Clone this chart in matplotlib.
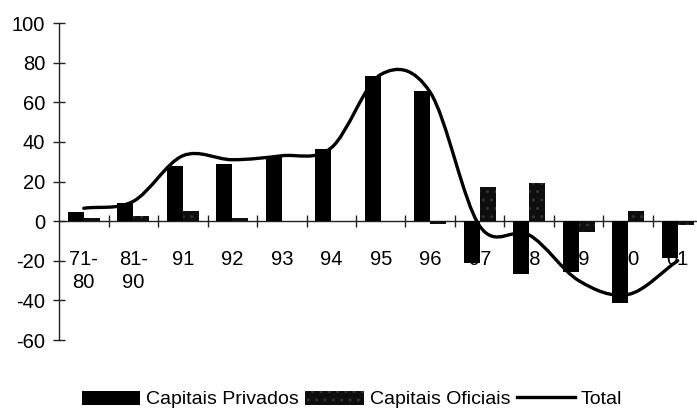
#!/usr/bin/env python3
# coding: utf-8

import numpy as np
import matplotlib

matplotlib.use("Agg")
import matplotlib.pyplot as plt
from matplotlib.path import Path
from matplotlib.patches import PathPatch, Patch
from matplotlib.lines import Line2D

plt.rcParams["font.family"] = ["Liberation Sans", "DejaVu Sans"]
plt.rcParams["axes.unicode_minus"] = False

# data
periods = ["71-\n80", "81-\n90", "91", "92", "93", "94", "95", "96",
           "97", "98", "99", "00", "01"]
privados = [4.5, 9, 28, 29, 32.5, 36.5, 73.5, 65.5, -21, -26.5, -25.5, -41.5, -18.5]
oficiais = [1.5, 2.5, 5, 1.5, 0, 0, 0, -1.5, 17, 19, -5.5, 5, -2]
total = [6.5, 10, 33, 31, 33, 37, 74, 65, -2.5, -7, -30, -37, -20]
yticks = [-60, -40, -20, 0, 20, 40, 60, 80, 100]


def smooth_path(xv, yv):
    # excel style smoothed line: cubic bezier segments (catmull-rom tangents)
    n = len(xv)
    t = np.zeros(n)
    for i in range(n):
        a = max(i - 1, 0)
        b = min(i + 1, n - 1)
        t[i] = (yv[b] - yv[a]) / (xv[b] - xv[a])
    verts = [(xv[0], yv[0])]
    codes = [Path.MOVETO]
    for i in range(n - 1):
        dx = (xv[i + 1] - xv[i]) / 3.0
        verts += [(xv[i] + dx, yv[i] + t[i] * dx),
                  (xv[i + 1] - dx, yv[i + 1] - t[i + 1] * dx),
                  (xv[i + 1], yv[i + 1])]
        codes += [Path.CURVE4] * 3
    return Path(verts, codes)


fig = plt.figure(figsize=(6.97, 4.11), dpi=100)
ax = fig.add_axes([0.0847, 0.1727, 0.9153, 0.7713])

x = np.arange(len(periods))
w = 0.32
ax.bar(x - w / 2, privados, w, color="black", linewidth=0, zorder=2)
ax.bar(x + w / 2, oficiais, w, color="#0e0e0e", edgecolor="#333333",
       hatch="..", linewidth=0, zorder=2)

ax.add_patch(PathPatch(smooth_path(x.astype(float), np.array(total, float)),
                       facecolor="none", edgecolor="black", lw=2.4,
                       zorder=3, capstyle="round"))

# category labels sit inside the plot, bars are drawn over them
for xi, lab in zip(x, periods):
    ax.text(xi, -14.5, lab, ha="center", va="top", fontsize=14.5,
            linespacing=1.3, zorder=1)

ax.set_xlim(-0.5, 12.39)
ax.set_ylim(-60, 100)
ax.set_yticks(yticks)
ax.set_xticks(np.arange(0.5, 12, 1.0))
ax.set_xticklabels([])

for s in ["top", "right"]:
    ax.spines[s].set_visible(False)
ax.spines["bottom"].set_position(("data", 0))
ax.spines["bottom"].set_zorder(1.5)
for s in ["left", "bottom"]:
    ax.spines[s].set_linewidth(1.0)
    ax.spines[s].set_color("#222222")

ax.tick_params(axis="y", direction="inout", length=8, width=1, pad=6,
               labelsize=14.5, colors="#222222", labelcolor="black")
ax.tick_params(axis="x", direction="inout", length=8, width=1,
               colors="#222222")

handles = [
    Patch(facecolor="black", linewidth=0),
    Patch(facecolor="#0e0e0e", edgecolor="#333333", hatch="..", linewidth=0),
    Line2D([], [], color="black", lw=2.4),
]
fig.legend(handles, ["Capitais Privados", "Capitais Oficiais", "Total"],
           loc="center", bbox_to_anchor=(0.505, 0.028), ncol=3,
           frameon=False, fontsize=14, handlelength=3.0, handleheight=0.75,
           handletextpad=0.3, columnspacing=0.35, borderaxespad=0)

fig.savefig("out.png", dpi=100)
